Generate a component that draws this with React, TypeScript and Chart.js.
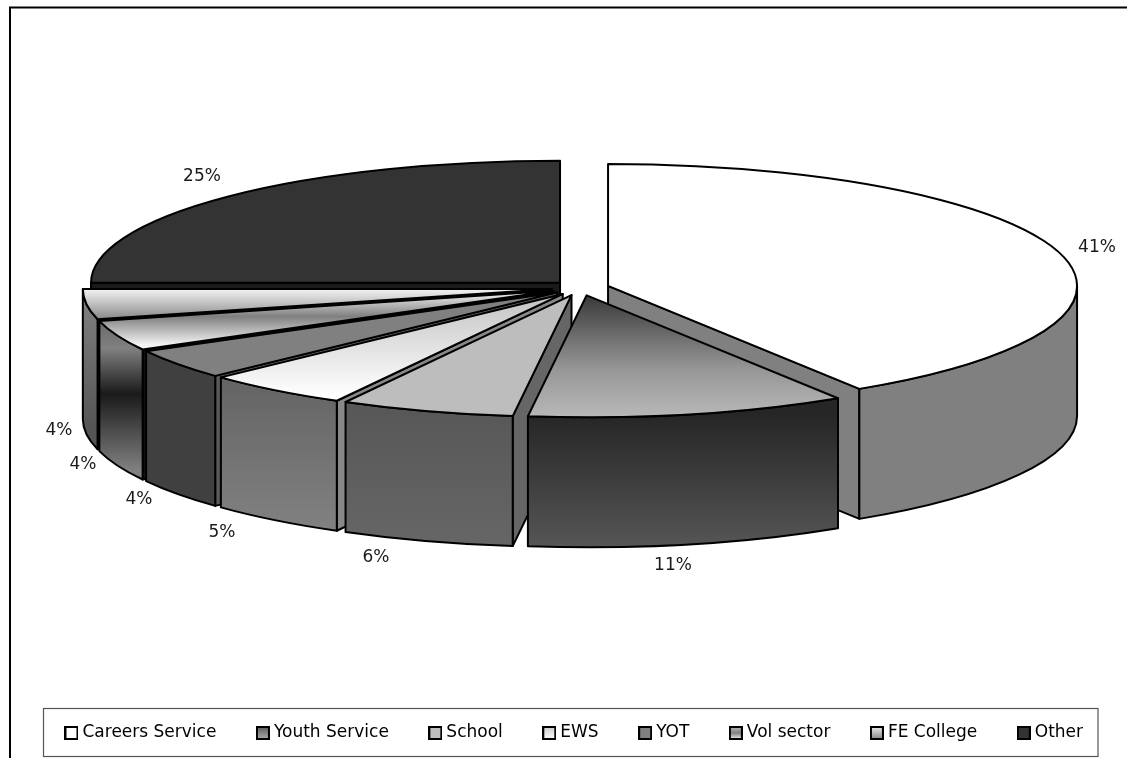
import React, { useEffect, useRef } from "react";
import { Chart, registerables } from "chart.js";

Chart.register(...registerables);

// Share of provision by agency, clockwise from twelve o'clock.
const categories = ["Careers Service", "Youth Service", "School", "EWS", "YOT", "Vol sector", "FE College", "Other"];
const shares = [41, 11, 6, 5, 4, 4, 4, 25];

type Stop = [number, string];
type Paint = { y0: number; y1: number; stops: Stop[] };
const flat = (c: string): Paint => ({ y0: 0, y1: 1, stops: [[0, c], [1, c]] });

// Top face of each slice, as vertical gradients in page pixels.
const topPaints: Paint[] = [
  flat("#ffffff"),
  { y0: 296, y1: 417, stops: [[0, "#3a3a3a"], [0.35, "#707070"], [0.6, "#969696"], [1, "#b8b8b8"]] },
  flat("#bdbdbd"),
  { y0: 297, y1: 396, stops: [[0, "#c4c4c4"], [1, "#ffffff"]] },
  flat("#808080"),
  { y0: 293, y1: 345, stops: [[0, "#eeeeee"], [0.45, "#808080"], [1, "#f4f4f4"]] },
  { y0: 286, y1: 318, stops: [[0, "#ffffff"], [1, "#8c8c8c"]] },
  flat("#333333"),
];

// Curved outer wall of each slice.
const wallPaints: Paint[] = [
  flat("#808080"),
  { y0: 415, y1: 546, stops: [[0, "#262626"], [1, "#555555"]] },
  { y0: 395, y1: 545, stops: [[0, "#565656"], [1, "#666666"]] },
  { y0: 370, y1: 525, stops: [[0, "#626262"], [1, "#808080"]] },
  flat("#404040"),
  { y0: 318, y1: 470, stops: [[0, "#686868"], [0.2, "#808080"], [0.5, "#1a1a1a"], [1, "#808080"]] },
  { y0: 298, y1: 427, stops: [[0, "#808080"], [1, "#555555"]] },
  flat("#333333"),
];

// Flat faces left by pulling the slices apart.
const cutColors = ["#808080", "#555555", "#666666", "#888888", "#5a5a5a", "#111111", "#333333", "#1a1a1a"];

// Legend swatch fills, top to bottom.
const swatchColors = [
  ["#ffffff", "#ffffff"],
  ["#555555", "#b0b0b0"],
  ["#bdbdbd", "#bdbdbd"],
  ["#c8c8c8", "#ffffff"],
  ["#808080", "#808080"],
  ["#c0c0c0", "#808080", "#ffffff"],
  ["#f0f0f0", "#808080"],
  ["#333333", "#333333"],
];

const labelAnchors = [
  [1097, 248], [673, 566], [376, 558], [222, 533], [139, 500], [83, 465], [59, 431], [202, 177],
];

const PIE_X = 580.4;
const PIE_Y = 288;
const RADIUS = 469;
const SQUASH = 0.26;
const DEPTH = 130;
const EXPLODE = 28.8;
const OUTLINE = 2;

const midAngle = (a: any) => (a.startAngle + a.endAngle) / 2;
const sliceCentre = (mid: number) => ({
  x: PIE_X + EXPLODE * Math.cos(mid),
  y: PIE_Y + EXPLODE * SQUASH * Math.sin(mid),
});

function linear(ctx: CanvasRenderingContext2D, p: Paint, map: (y: number) => number) {
  const g = ctx.createLinearGradient(0, map(p.y0), 0, map(p.y1));
  p.stops.forEach(([o, c]) => g.addColorStop(o, c));
  return g;
}

function makeSwatch(colors: string[]) {
  const c = document.createElement("canvas");
  c.width = 14;
  c.height = 14;
  const x = c.getContext("2d")!;
  const g = x.createLinearGradient(0, 0, 0, 14);
  colors.forEach((col, i) => g.addColorStop(i / (colors.length - 1), col));
  x.fillStyle = g;
  x.fillRect(0, 0, 14, 14);
  x.strokeStyle = "#000000";
  x.lineWidth = 2;
  x.strokeRect(1, 1, 12, 12);
  return c;
}

// Draws the slices back to front as extruded wedges; the top of each wedge is the
// library's own arc element under a flattening transform.
const extrudedPie = {
  id: "extrudedPie",
  afterLayout(chart: any) {
    const l = chart.legend;
    const h = l.bottom - l.top;
    l.top = 680.5;
    l.bottom = l.top + h;
    l.left += 12.5;
    l.right += 12.5;
  },
  beforeDraw(chart: any) {
    const { ctx } = chart;
    ctx.save();
    ctx.fillStyle = "#ffffff";
    ctx.fillRect(0, 0, chart.width, chart.height);
    ctx.strokeStyle = "#000000";
    ctx.lineWidth = 2;
    ctx.strokeRect(10, 7.5, 1300, 1000);
    ctx.strokeStyle = "#555555";
    ctx.lineWidth = 1.2;
    ctx.strokeRect(43.5, 708.5, 1054.5, 48);
    ctx.restore();
  },
  beforeDatasetDraw(chart: any) {
    const { ctx } = chart;
    const arcs: any[] = chart.getDatasetMeta(0).data;
    const order = arcs.map((_, i) => i).sort((a, b) => Math.sin(midAngle(arcs[a])) - Math.sin(midAngle(arcs[b])));
    const toPage = (c: { x: number; y: number }, a: number) => ({
      x: c.x + RADIUS * Math.cos(a),
      y: c.y + RADIUS * SQUASH * Math.sin(a),
    });
    ctx.save();
    ctx.lineJoin = "round";
    ctx.strokeStyle = "#000000";
    ctx.lineWidth = OUTLINE;
    const face = (c: any, a: number, fill: string) => {
      const e = toPage(c, a);
      ctx.beginPath();
      ctx.moveTo(c.x, c.y);
      ctx.lineTo(e.x, e.y);
      ctx.lineTo(e.x, e.y + DEPTH);
      ctx.lineTo(c.x, c.y + DEPTH);
      ctx.closePath();
      ctx.fillStyle = fill;
      ctx.fill();
      ctx.stroke();
    };
    order.forEach((i) => {
      const arc = arcs[i];
      const a1 = arc.startAngle;
      const a2 = arc.endAngle;
      const c = sliceCentre(midAngle(arc));
      if (Math.cos(a1) < 0) face(c, a1, cutColors[i]);
      if (Math.cos(a2) > 0) face(c, a2, cutColors[i]);
      const from = Math.max(a1, 0);
      const to = Math.min(a2, Math.PI);
      if (to > from) {
        ctx.beginPath();
        ctx.ellipse(c.x, c.y, RADIUS, RADIUS * SQUASH, 0, from, to);
        ctx.ellipse(c.x, c.y + DEPTH, RADIUS, RADIUS * SQUASH, 0, to, from, true);
        ctx.closePath();
        ctx.fillStyle = linear(ctx, wallPaints[i], (y) => y);
        ctx.fill();
        ctx.stroke();
      }
      ctx.save();
      ctx.translate(c.x, c.y);
      ctx.scale(1, SQUASH);
      ctx.translate(-arc.x, -arc.y);
      arc.draw(ctx);
      ctx.restore();
      ctx.beginPath();
      ctx.moveTo(c.x, c.y);
      ctx.ellipse(c.x, c.y, RADIUS, RADIUS * SQUASH, 0, a1, a2);
      ctx.closePath();
      ctx.stroke();
    });
    ctx.restore();
    return false;
  },
  afterDraw(chart: any) {
    const { ctx } = chart;
    ctx.save();
    ctx.font = '17px "DejaVu Sans"';
    ctx.fillStyle = "#1a1a1a";
    ctx.textAlign = "center";
    ctx.textBaseline = "middle";
    shares.forEach((v, i) => ctx.fillText(`${v}%`, labelAnchors[i][0], labelAnchors[i][1]));
    ctx.restore();
  },
};

export default function App() {
  const ref = useRef<HTMLCanvasElement>(null);
  useEffect(() => {
    const swatches = swatchColors.map(makeSwatch);
    const chart = new Chart(ref.current!, {
      type: "pie",
      data: {
        labels: categories,
        datasets: [
          {
            data: shares,
            radius: RADIUS,
            borderWidth: 0,
            hoverOffset: 0,
            backgroundColor: (c: any) => {
              if (c.dataIndex === undefined) return "#808080";
              const area = c.chart.chartArea;
              const arcY = (area.top + area.bottom) / 2;
              const total = shares.reduce((s, v) => s + v, 0);
              const before = shares.slice(0, c.dataIndex).reduce((s, v) => s + v, 0);
              const mid = ((before + shares[c.dataIndex] / 2) / total) * Math.PI * 2 - Math.PI / 2;
              const sy = sliceCentre(mid).y;
              return linear(c.chart.ctx, topPaints[c.dataIndex], (y) => arcY + (y - sy) / SQUASH);
            },
          },
        ],
      } as any,
      plugins: [extrudedPie],
      options: {
        responsive: false,
        animation: false,
        events: [],
        plugins: {
          tooltip: { enabled: false },
          legend: {
            position: "bottom",
            labels: {
              usePointStyle: true,
              pointStyleWidth: 5,
              boxHeight: 14,
              padding: 44,
              color: "#1a1a1a",
              font: { family: '"DejaVu Sans"', size: 17 },
              generateLabels: () =>
                categories.map((text, i) => ({ text, pointStyle: swatches[i], index: i, hidden: false, lineWidth: 0 })),
            },
          },
        },
      } as any,
    });
    return () => chart.destroy();
  }, []);
  return (
    <canvas
      ref={ref}
      width={1127}
      height={758}
      style={{ position: "absolute", left: 0, top: 0, display: "block" }}
    />
  );
}
